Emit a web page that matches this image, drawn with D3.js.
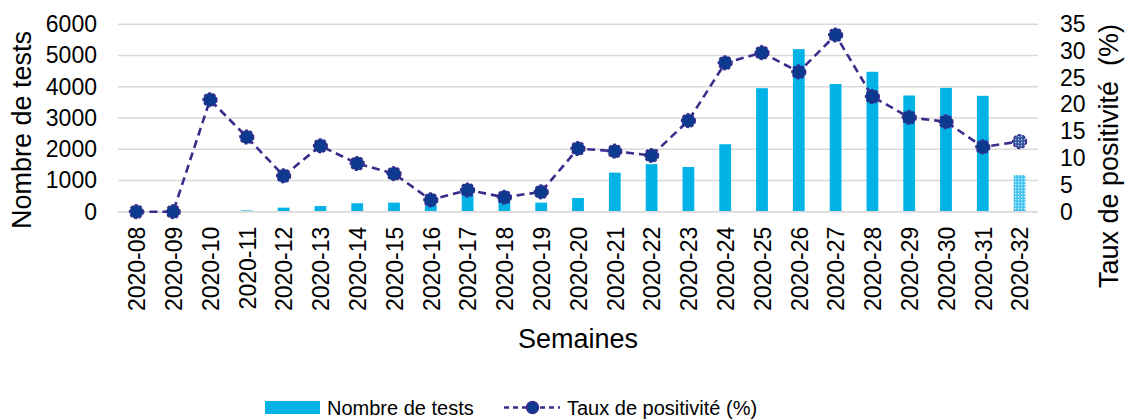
<!DOCTYPE html>
<html><head><meta charset="utf-8">
<script src="https://cdn.jsdelivr.net/npm/d3@7"></script>
<style>
body{margin:0;background:#fff;}
text{font-family:"Liberation Sans",Arial,sans-serif;fill:#000;}
</style></head>
<body><svg id="c" width="1126" height="419"></svg>
<script>
const categories = ["2020-08","2020-09","2020-10","2020-11","2020-12","2020-13","2020-14","2020-15","2020-16","2020-17","2020-18","2020-19","2020-20","2020-21","2020-22","2020-23","2020-24","2020-25","2020-26","2020-27","2020-28","2020-29","2020-30","2020-31","2020-32"];
const tests = [0,0,5,40,130,180,270,290,200,550,350,290,440,1250,1520,1430,2160,3955,5205,4090,4480,3720,3965,3710,1175];
const positivite = [0,0,20.9,13.95,6.7,12.3,9.0,7.1,2.2,4.05,2.7,3.7,11.8,11.3,10.5,17.0,27.8,29.7,26.1,33.0,21.5,17.6,16.8,12.1,13.1];
const leftTicks = [0,1000,2000,3000,4000,5000,6000];
const rightTicks = [0,5,10,15,20,25,30,35];
const partialIndex = 24; // last week (incomplete) drawn with pattern

const svg = d3.select("#c");
const L=118, R=1038, T=24.3, B=211.7;
const x = d3.scalePoint().domain(categories).range([L,R]).padding(0.5);
const step = x.step();
const yL = d3.scaleLinear().domain([0,6000]).range([B,T]);
const yR = d3.scaleLinear().domain([0,35]).range([B,T]);

const defs = svg.append("defs");
const pat = defs.append("pattern").attr("id","dots").attr("patternUnits","userSpaceOnUse").attr("width",3).attr("height",3);
pat.append("rect").attr("width",3).attr("height",3).attr("fill","#45c3ef");
pat.append("rect").attr("x",1).attr("y",1).attr("width",1.3).attr("height",1.3).attr("fill","#dff4fc");
const pat2 = defs.append("pattern").attr("id","dots2").attr("patternUnits","userSpaceOnUse").attr("width",3).attr("height",3);
pat2.append("rect").attr("width",3).attr("height",3).attr("fill","#33559f");
pat2.append("rect").attr("x",1).attr("y",1).attr("width",1.3).attr("height",1.3).attr("fill","#b9c6e3");

// gridlines
svg.append("g").selectAll("line").data(leftTicks).join("line")
  .attr("x1",L).attr("x2",R).attr("y1",d=>yL(d)).attr("y2",d=>yL(d))
  .attr("stroke","#d9d9d9").attr("stroke-width",1.5);

// left axis
const gl = svg.append("g").attr("transform",`translate(${L},0)`)
  .call(d3.axisLeft(yL).tickValues(leftTicks).tickSize(0).tickPadding(21).tickFormat(d3.format("d")));
gl.select(".domain").remove();
gl.selectAll("text").attr("font-size",23).style("font-family","'Liberation Sans',Arial,sans-serif").attr("fill","#000");

// right axis
const gr = svg.append("g").attr("transform",`translate(${R},0)`)
  .call(d3.axisRight(yR).tickValues(rightTicks).tickSize(0).tickPadding(22).tickFormat(d3.format("d")));
gr.select(".domain").remove();
gr.selectAll("text").attr("font-size",23).style("font-family","'Liberation Sans',Arial,sans-serif").attr("fill","#000");

// bars
const bw = step*0.32;
svg.append("g").selectAll("rect").data(tests).join("rect")
  .attr("x",(d,i)=>x(categories[i])-bw/2)
  .attr("width",bw)
  .attr("y",d=>yL(d))
  .attr("height",d=>B-yL(d))
  .attr("fill",(d,i)=>i===partialIndex?"url(#dots)":"#00b2e5");

// bottom axis
const gx = svg.append("g").attr("transform",`translate(0,${B})`)
  .call(d3.axisBottom(x).tickSize(0).tickPadding(0));
gx.select(".domain").attr("stroke","#d9d9d9").attr("stroke-width",1.5).attr("d",`M${L},0H${R}`);
gx.selectAll("text").attr("font-size",23).style("font-family","'Liberation Sans',Arial,sans-serif").attr("fill","#000")
  .attr("transform","rotate(-90)").attr("text-anchor","end").attr("x",-15).attr("y",0).attr("dy","0.36em");

// line
const line = d3.line().x((d,i)=>x(categories[i])).y(d=>yR(d));
svg.append("path").datum(positivite).attr("d",line).attr("fill","none")
  .attr("stroke","#3b2c8c").attr("stroke-width",2.6).attr("stroke-dasharray","8,5");
svg.append("g").selectAll("circle").data(positivite).join("circle")
  .attr("cx",(d,i)=>x(categories[i])).attr("cy",d=>yR(d)).attr("r",6.8)
  .attr("fill",(d,i)=>i===partialIndex?"url(#dots2)":"#0d3a8e")
  .attr("stroke","#3b2c8c").attr("stroke-width",1.6).attr("stroke-dasharray","3,2");

// axis titles
svg.append("text").attr("transform","translate(31,130) rotate(-90)").attr("text-anchor","middle")
  .attr("font-size",27).text("Nombre de tests");
svg.append("text").attr("transform","translate(1118,156) rotate(-90)").attr("text-anchor","middle")
  .attr("font-size",27).attr("xml:space","preserve").style("white-space","pre").text("Taux de positivité  (%)");
svg.append("text").attr("x",578).attr("y",348).attr("text-anchor","middle")
  .attr("font-size",27).text("Semaines");

// legend
const lg = svg.append("g");
lg.append("rect").attr("x",265).attr("y",401).attr("width",55).attr("height",13).attr("fill","#00b2e5");
lg.append("text").attr("x",327).attr("y",415).attr("font-size",20).text("Nombre de tests");
lg.append("line").attr("x1",504).attr("x2",560).attr("y1",407.5).attr("y2",407.5)
  .attr("stroke","#3b2c8c").attr("stroke-width",2.6).attr("stroke-dasharray","5,4");
lg.append("circle").attr("cx",532.5).attr("cy",407.5).attr("r",6).attr("fill","#0d3a8e")
  .attr("stroke","#3b2c8c").attr("stroke-width",1.4);
lg.append("text").attr("x",567).attr("y",415).attr("font-size",20).text("Taux de positivité (%)");
</script></body></html>
